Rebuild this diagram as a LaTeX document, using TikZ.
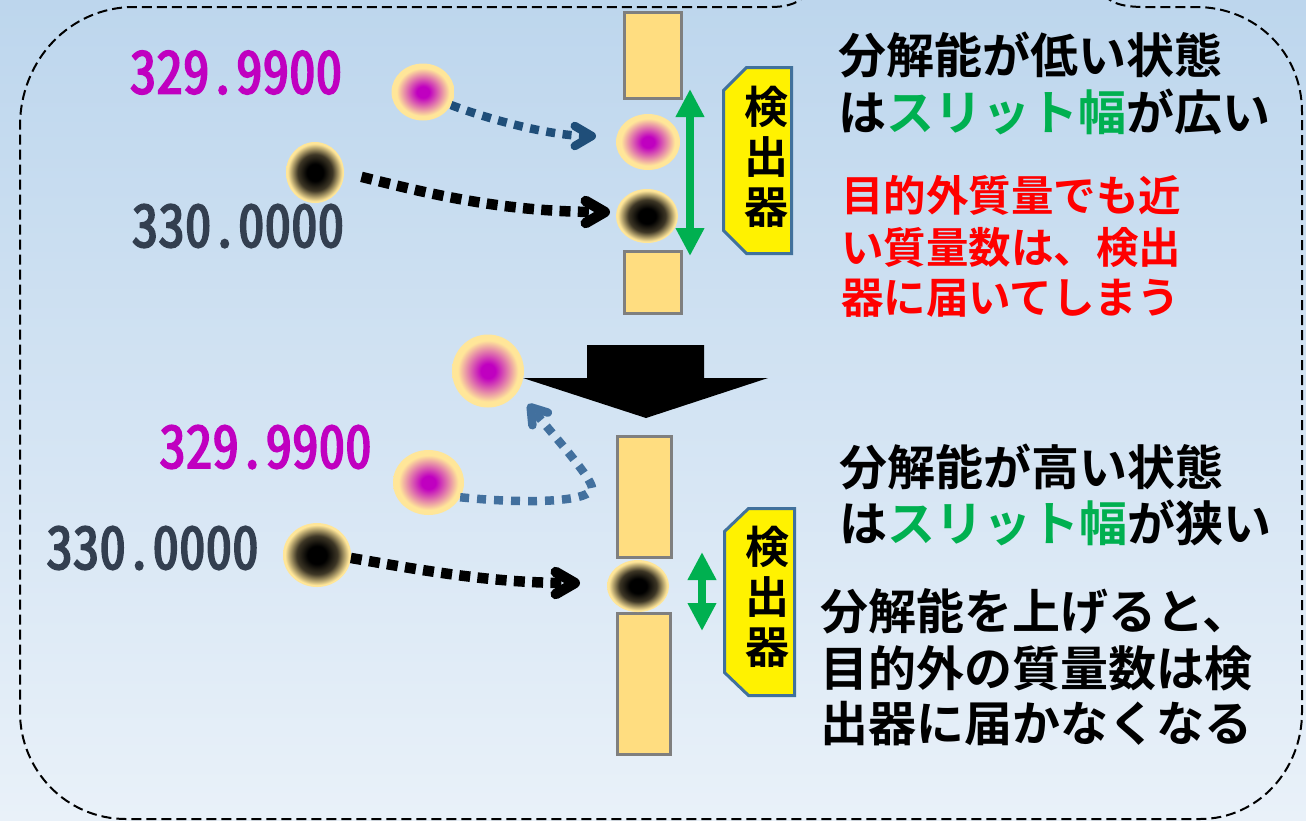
\documentclass[tikz,border=0pt]{standalone}
\usepackage{fontspec}
\usetikzlibrary{arrows.meta,shapes.geometric}
\newfontfamily\jpb{Noto Sans CJK JP Bold}
\newfontfamily\numf{Noto Sans CJK JP}[RawFeature=+hwid, FakeStretch=0.9, FakeBold=3]

\definecolor{bgtop}{RGB}{189,214,237}
\definecolor{bgbot}{RGB}{233,241,249}
\definecolor{ionmag}{RGB}{192,0,192}
\definecolor{ionrim}{RGB}{255,230,153}
\definecolor{iondark}{RGB}{62,55,38}
\definecolor{numdark}{RGB}{51,63,80}
\definecolor{slitfill}{RGB}{255,221,128}
\definecolor{slitedge}{RGB}{127,127,127}
\definecolor{detblue}{RGB}{65,113,156}
\definecolor{okgreen}{RGB}{0,176,80}
\definecolor{pathdark}{RGB}{31,78,121}
\definecolor{pathmid}{RGB}{66,112,158}
\definecolor{warnred}{RGB}{255,0,0}

% ion shadings: 25bp is the rim of the filled shape
\pgfdeclareradialshading{magball}{\pgfpoint{0bp}{0bp}}{%
  color(0bp)=(ionmag); color(5bp)=(ionmag); color(21bp)=(ionrim);
  color(25bp)=(ionrim); color(50bp)=(ionrim)}
\pgfdeclareradialshading{blkball}{\pgfpoint{0bp}{0bp}}{%
  color(0bp)=(black); color(7bp)=(black); color(15bp)=(iondark);
  color(23.5bp)=(ionrim); color(25bp)=(ionrim); color(50bp)=(ionrim)}

\begin{document}
\begin{tikzpicture}[x=1pt,y=-1pt,
  magion/.style={ellipse, inner sep=0pt, outer sep=0pt, shade, shading=magball},
  blkion/.style={ellipse, inner sep=0pt, outer sep=0pt, shade, shading=blkball},
  slit/.style={rectangle, inner sep=0pt, fill=slitfill, draw=slitedge, line width=3pt},
  detframe/.style={rectangle, inner sep=0pt, outer sep=0pt},
  detline/.style={fill=yellow, draw=detblue, line width=3pt, line join=miter},
  dettext/.style={align=center, inner sep=0pt, font=\jpb\fontsize{44}{50}\selectfont},
  label/.style={anchor=west, inner sep=0pt, font=\jpb\fontsize{48}{57}\selectfont},
  redlabel/.style={anchor=west, inner sep=0pt, text=warnred, font=\jpb\fontsize{42.5}{51}\selectfont},
  mass/.style={inner sep=0pt, font=\numf\fontsize{59}{60}\selectfont},
  widthmark/.style={draw=okgreen, line width=8.5pt,
    {Triangle[length=28pt,width=27pt]}-{Triangle[length=28pt,width=27pt]}},
  blackpath/.style={draw=black, line width=10.5pt, dash pattern=on 11pt off 7.3pt,
    -{Straight Barb[length=19pt,width=22pt,round]}},
  bluepathA/.style={draw=pathdark, line width=8.5pt, dash pattern=on 9pt off 7.5pt,
    -{Straight Barb[length=17pt,width=20pt,round]}},
  bluepathB/.style={draw=pathmid, line width=8.5pt, dash pattern=on 9pt off 8pt,
    -{Straight Barb[length=15pt,width=20pt,round]}},
  outline/.style={draw=black, line width=2pt, dash pattern=on 10pt off 5pt}
]
\useasboundingbox (0,0) rectangle (1306,820);

% background
\shade[top color=bgtop, bottom color=bgbot] (0,0) rectangle (1306,820);

% dashed frame
\begin{scope}
  \clip (0,0) rectangle (1306,820);
  \draw[outline] (1104,-6) .. controls (1110,3) and (1122,7) .. (1145,7)
    -- (1196,7) .. controls (1255,7) and (1302,52) .. (1302,112)
    -- (1302,712) .. controls (1302,770) and (1258,819) .. (1200,819)
    -- (126,819) .. controls (66,819) and (20,770) .. (20,712)
    -- (20,126) .. controls (20,60) and (70,7) .. (134,7)
    -- (770,7) .. controls (790,7) and (800,2) .. (806,-6);
\end{scope}

% ---------- wide slit ----------
\node[slit, minimum width=57pt, minimum height=86pt] (s1) at (653,55.5) {};
\node[slit, minimum width=57pt, minimum height=62pt] (s2) at (653,282.5) {};

\node[magion, minimum width=63pt, minimum height=57pt] (m1) at (423,92) {};
\node[blkion, minimum width=58pt, minimum height=61pt] (b1) at (315,172.5) {};
\node[magion, minimum width=64pt, minimum height=56pt] (m2) at (648,142) {};
\node[blkion, minimum width=62pt, minimum height=54pt] (b2) at (647,216) {};

\node[mass, text=ionmag] (n1) at (236,72.5) {329.9900};
\node[mass, text=numdark] (n2) at (238,226) {330.0000};

\coordinate (tipA) at (596,136);
\coordinate (tipB) at (610,212);
\draw[bluepathA] (m1.-25) .. controls +(40,15) and +(-45,0) .. (tipA);
\draw[blackpath, shorten <=18pt] (b1.east) .. controls +(80,20) and +(-110,0) .. (tipB);

\coordinate (g1a) at (690,89);
\coordinate (g1b) at (690,256);
\draw[widthmark] (g1a) -- (g1b);

\node[detframe, minimum width=68pt, minimum height=186pt] (d1) at (757.5,160.5) {};
\draw[detline] ([yshift=-23pt]d1.north west) -- ([xshift=23pt]d1.north west)
  -- (d1.north east) -- (d1.south east) -- ([xshift=23pt]d1.south west)
  -- ([yshift=23pt]d1.south west) -- cycle;
\node[dettext] (d1t) at (766,157) {検\\出\\器};

\node[label] (t1) at (838,55) {分解能が低い状態};
\node[label] (t2) at (838,112) {は\textcolor{okgreen}{スリット幅}が広い};
\node[redlabel] (r1) at (841,195) {目的外質量でも近};
\node[redlabel] (r2) at (841,247) {い質量数は、検出};
\node[redlabel] (r3) at (841,298) {器に届いてしまう};

% ---------- transition arrow ----------
\fill[black] (587,345) -- (704,345) -- (704,378) -- (768,378) -- (646,418)
  -- (523,378) -- (587,378) -- cycle;

% ---------- narrow slit ----------
\node[slit, minimum width=54pt, minimum height=121pt] (s3) at (644.5,497) {};
\node[slit, minimum width=53pt, minimum height=141pt] (s4) at (644,684) {};

\node[magion, minimum width=72pt, minimum height=73pt] (m3) at (488,371) {};
\node[magion, minimum width=71pt, minimum height=65pt] (m4) at (428.5,482.5) {};
\node[blkion, minimum width=68pt, minimum height=64pt] (b3) at (317,555) {};
\node[blkion, minimum width=62pt, minimum height=52pt] (b4) at (638,586) {};

\node[mass, text=ionmag] (n3) at (265.5,447) {329.9900};
\node[mass, text=numdark] (n4) at (152.5,548) {330.0000};

\coordinate (tipC) at (528,404);
\coordinate (tipD) at (580,583);
\draw[bluepathB] (m4.-25) .. controls +(80,8) and +(0,12) .. (592,488)
  .. controls +(0,-10) and +(22,27) .. (tipC);
\draw[blackpath] (b3.-5) .. controls +(70,12) and +(-90,0) .. (tipD);

\coordinate (g2a) at (702,552);
\coordinate (g2b) at (702,631);
\draw[widthmark] (g2a) -- (g2b);

\node[detframe, minimum width=70pt, minimum height=187pt] (d2) at (759.5,602) {};
\draw[detline] ([yshift=-23pt]d2.north west) -- ([xshift=24pt]d2.north west)
  -- (d2.north east) -- (d2.south east) -- ([xshift=24pt]d2.south west)
  -- ([yshift=23pt]d2.south west) -- cycle;
\node[dettext] (d2t) at (767,597) {検\\出\\器};

\node[label] (t3) at (839,467) {分解能が高い状態};
\node[label] (t4) at (839,523) {は\textcolor{okgreen}{スリット幅}が狭い};
\node[label] (t5) at (820,611) {分解能を上げると、};
\node[label] (t6) at (820,668) {目的外の質量数は検};
\node[label] (t7) at (820,724) {出器に届かなくなる};
\end{tikzpicture}
\end{document}
